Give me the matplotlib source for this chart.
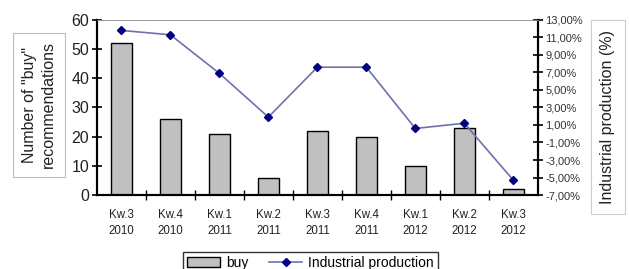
import numpy as np
import matplotlib
matplotlib.use("Agg")
import matplotlib.pyplot as plt
from matplotlib.ticker import FuncFormatter, FixedLocator

plt.rcParams['font.family'] = ['Liberation Sans', 'DejaVu Sans']

quarters = ['Kw.3\n2010', 'Kw.4\n2010', 'Kw.1\n2011', 'Kw.2\n2011', 'Kw.3\n2011',
            'Kw.4\n2011', 'Kw.1\n2012', 'Kw.2\n2012', 'Kw.3\n2012']
buy = [52, 26, 21, 6, 22, 20, 10, 23, 2]
production = [11.8, 11.3, 6.9, 1.9, 7.6, 7.6, 0.6, 1.2, -5.3]

fig = plt.figure(figsize=(6.29, 2.69), dpi=100)
ax = fig.add_axes([0.154, 0.275, 0.701, 0.651])
ax2 = ax.twinx()

x = np.arange(len(quarters))
bars = ax.bar(x, buy, width=0.42, color='#c0c0c0', edgecolor='black', linewidth=1.0,
              label='buy', zorder=2)
ax.set_xlim(-0.5, len(quarters) - 0.5)
ax.set_ylim(0, 60)
ax.set_yticks(range(0, 61, 10))
ax.tick_params(axis='y', direction='inout', length=7, width=1.2, labelsize=11.5, pad=2,
               labelcolor='#222222')
ax.set_xticks(x)
ax.set_xticklabels(quarters, fontsize=8.3, color='#222222', linespacing=1.5)
ax.tick_params(axis='x', length=0, pad=10)
ax.xaxis.set_minor_locator(FixedLocator(np.arange(0.5, len(quarters) - 0.5, 1)))
ax.tick_params(axis='x', which='minor', direction='inout', length=7, width=1.0)

line, = ax2.plot(x, production, color='#7070b0', linewidth=1.2, marker='D',
                 markersize=4.2, markerfacecolor='#000080', markeredgecolor='#000080',
                 label='Industrial production', zorder=3)
ax2.set_ylim(-7, 13)
ax2.set_yticks(range(-7, 14, 2))
ax2.yaxis.set_major_formatter(FuncFormatter(lambda v, p: f'{v:.2f}%'.replace('.', ',')))
ax2.tick_params(axis='y', direction='inout', length=7, width=1.2, labelsize=8, pad=2,
                labelcolor='#333333')

for a in (ax, ax2):
    a.spines['top'].set_color('#999999')
    a.spines['top'].set_linewidth(0.6)
    a.spines['left'].set_linewidth(1.5)
    a.spines['right'].set_linewidth(1.5)
    a.spines['bottom'].set_linewidth(1.5)

fig.text(0.062, 0.61, 'Number of "buy"\nrecommendations', rotation=90, ha='center',
         va='center', fontsize=11.5, color='#222222', linespacing=1.3,
         bbox=dict(boxstyle='square,pad=0.55', facecolor='white', edgecolor='#bbbbbb',
                   linewidth=0.8))
fig.text(0.966, 0.565, 'Industrial production (%)', rotation=90, ha='center',
         va='center', fontsize=11.5, color='#222222',
         bbox=dict(boxstyle='square,pad=0.6', facecolor='white', edgecolor='#cccccc',
                   linewidth=0.8))

leg = fig.legend([bars, line], ['buy', 'Industrial production'], loc='lower center',
                 bbox_to_anchor=(0.493, -0.045), ncol=2, fontsize=10, frameon=True,
                 fancybox=False, edgecolor='black', handlelength=2.4, columnspacing=1.5,
                 borderpad=0.3, handletextpad=0.4)
leg.get_frame().set_linewidth(1.0)

fig.savefig('out.png', dpi=100)
